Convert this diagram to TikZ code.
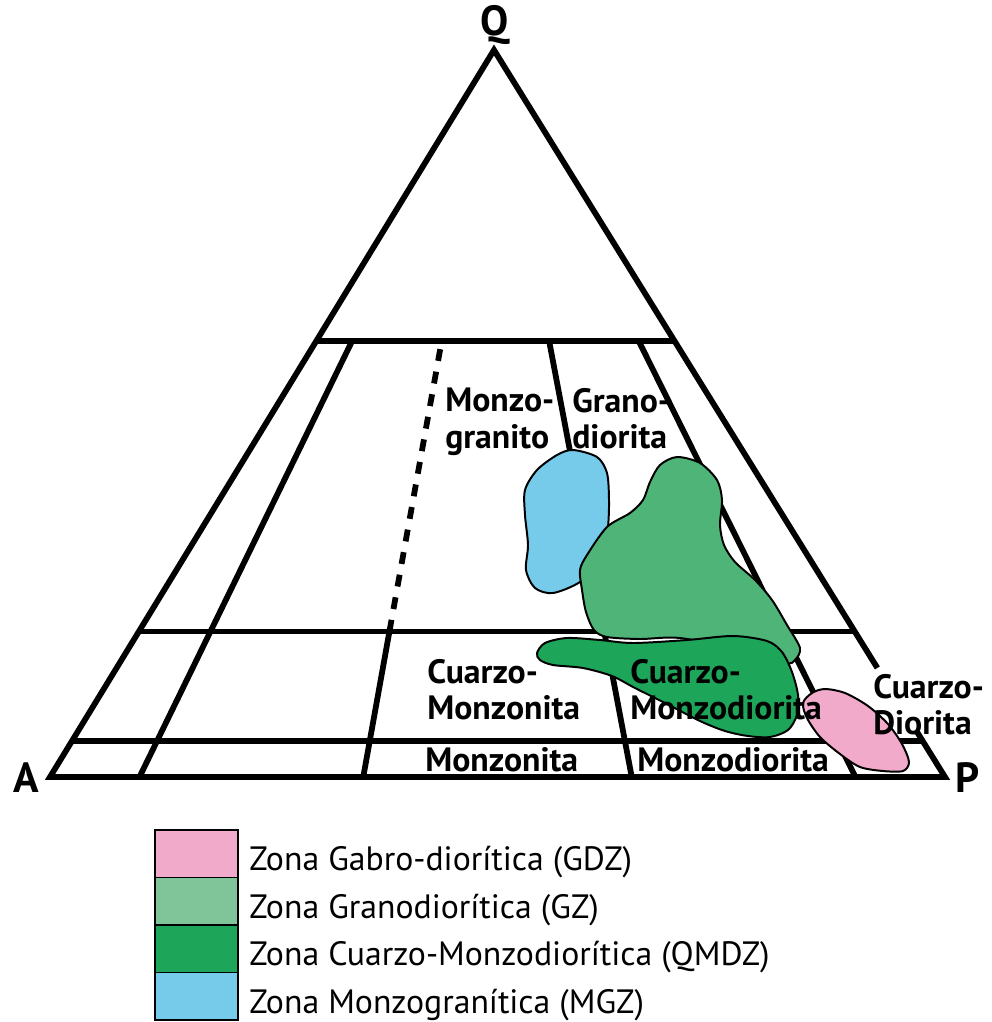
\documentclass[tikz,border=0pt]{standalone}
\usepackage{fontspec}
\setmainfont{PT Sans}
\usetikzlibrary{calc}

\definecolor{gdzpink}{HTML}{F2AACB}
\definecolor{gzgreen}{HTML}{4EB478}
\definecolor{gzlegend}{HTML}{80C49A}
\definecolor{qmdzgreen}{HTML}{1DA55A}
\definecolor{mgzblue}{HTML}{76CAEA}

\begin{document}
\begin{tikzpicture}[x=0.025cm, y=-0.025cm,
    field/.style={line width=4.1pt, line join=miter},
    zone/.style={draw=black, line width=1.4pt},
    rock/.style={font=\fontsize{24}{26}\selectfont\bfseries, inner sep=0pt, anchor=north west, align=left},
    apex/.style={font=\fontsize{30}{30}\selectfont\bfseries, inner sep=0pt},
    legendtext/.style={font=\fontsize{24}{26}\selectfont, inner sep=0pt, anchor=base west}]
    \useasboundingbox (0,0) rectangle (992,1022);

    % Corners
    \coordinate (Q) at (494,50);
    \coordinate (A) at (50,777);
    \coordinate (P) at (945,777);

    % Triangle (right side broken by the Cuarzo-Diorita label)
    \draw[field] ($(P)!0.064!(Q)$) -- (P) -- (A) -- (Q) -- ($(P)!0.15!(Q)$);

    % Horizontal limits at Q = 60, 20, 5
    \foreach \q in {0.6,0.2,0.05} {
        \draw[field] ($(A)!\q!(Q)$) -- ($(P)!\q!(Q)$);
    }

    % Lines towards Q
    \foreach \r in {0.1,0.65,0.9} {
        \draw[field] ($(A)!\r!(P)$) -- ($($(A)!\r!(P)$)!0.6!(Q)$);
    }
    \coordinate (m) at ($(A)!0.35!(P)$);
    \draw[field] (m) -- ($(m)!0.2!(Q)$);
    \draw[field, dash pattern=on 8.5pt off 7.8pt] ($(m)!0.2!(Q)$) -- ($(m)!0.6!(Q)$);

    % Zones
    \draw[zone, fill=mgzblue] plot[smooth cycle] coordinates {
        (573,450) (597,457) (607,473) (609,500) (608,527) (603,560) (580,582)
        (553,593) (535,588) (526,570) (528,545) (525,515) (525,490) (537,470) (557,455)};
    \draw[zone, fill=gzgreen] plot[smooth cycle] coordinates {
        (677,457) (700,463) (717,480) (722,500) (720,525) (724,545) (735,562)
        (755,580) (772,600) (787,625) (800,648) (795,660) (785,663) (740,650)
        (680,638) (640,639) (607,637) (594,630) (586,612) (582,590) (580,570)
        (587,555) (607,527) (630,513) (643,500) (650,482) (660,465)};
    \draw[zone, fill=qmdzgreen] plot[smooth cycle] coordinates {
        (537,653) (545,643) (567,638) (600,640) (633,643) (687,640) (733,636)
        (767,641) (782,652) (792,672) (798,695) (797,715) (788,730) (770,737)
        (748,736) (725,731) (700,721) (667,704) (635,688) (612,676) (583,668)
        (553,665) (540,660)};
    \draw[zone, fill=gdzpink] plot[smooth cycle] coordinates {
        (825,689) (845,693) (868,706) (888,724) (902,744) (909,762) (903,771)
        (883,771) (860,767) (840,754) (820,737) (807,718) (803,703) (812,693)};

    % Rock names
    \node[rock] (mgranito) at (445,388) {Monzo-\\granito};
    \node[rock] (gdiorita) at (572,388) {Grano-\\diorita};
    \node[rock] (qmonzonita) at (427,659) {Cuarzo-\\Monzonita};
    \node[rock] (qmonzodiorita) at (630,659) {Cuarzo-\\Monzodiorita};
    \node[rock] (qdiorita) at (873,674) {Cuarzo-\\Diorita};
    \node[rock] (monzonita) at (425,747) {Monzonita};
    \node[rock] (monzodiorita) at (637,747) {Monzodiorita};

    % Apices
    \node[apex] (qtext) at (495,25) {Q};
    \node[apex] (atext) at (26,778) {A};
    \node[apex] (ptext) at (968,778) {P};

    % Legend
    \foreach \c/\t [count=\i from 0] in {gdzpink/Zona Gabro-diorítica (GDZ),
            gzlegend/Zona Granodiorítica (GZ),
            qmdzgreen/Zona Cuarzo-Monzodiorítica (QMDZ),
            mgzblue/Zona Monzogranítica (MGZ)} {
        \draw[line width=1.4pt, fill=\c] (155,830+47.5*\i) rectangle (238,877.5+47.5*\i);
        \node[legendtext] (leg\i) at (249,870.5+47.5*\i) {\t};
    }
\end{tikzpicture}
\end{document}
